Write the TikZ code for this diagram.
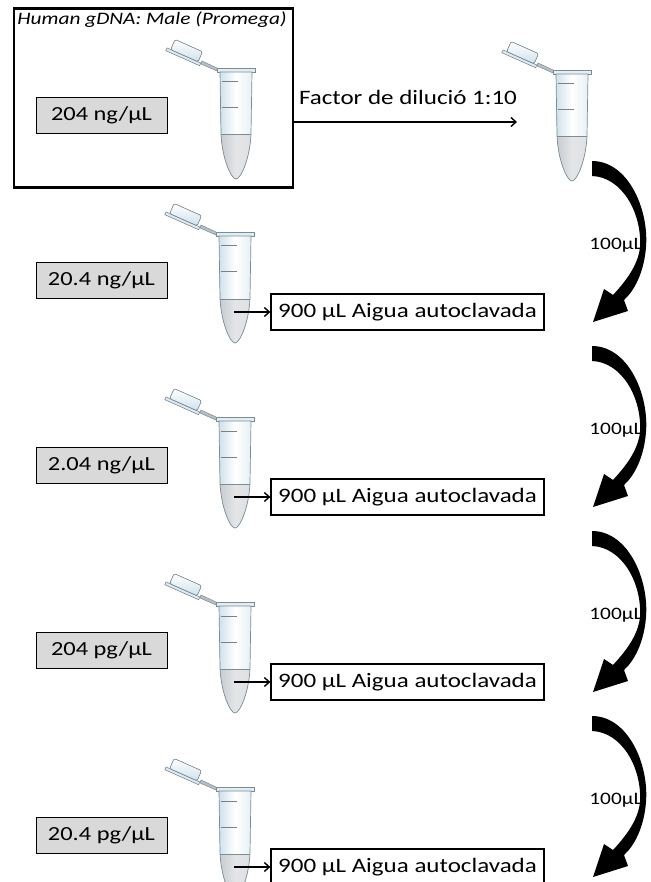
\documentclass[tikz,border=0pt]{standalone}
\usepackage{fontspec}
\setmainfont{Carlito}[FakeStretch=1.22]
\usetikzlibrary{arrows.meta}
\definecolor{tubeline}{HTML}{7E8B94}
\definecolor{tubeblue}{HTML}{CFE1EC}
\definecolor{liquid}{HTML}{B9BEC3}
\definecolor{boxgray}{HTML}{D9D9D9}
% outline of the tube body, top centre at (0,0), y downwards
\def\tubeoutline{(-16,4) -- (-15,66) .. controls (-14,90) and (-5,111) .. (0,111) .. controls (5,111) and (14,90) .. (15,66) -- (16,4) -- cycle}
\tikzset{
  conc/.style={draw=black, line width=0.8pt, fill=boxgray, minimum width=131pt, minimum height=36pt, inner sep=0pt, font=\fontsize{20}{22}\selectfont},
  water/.style={draw=black, line width=1.3pt, fill=white, minimum width=273pt, minimum height=36pt, inner sep=0pt, font=\fontsize{20.5}{22}\selectfont},
  vol/.style={font=\fontsize{17.5}{19}\selectfont},
  thinarrow/.style={-{Straight Barb[length=5pt,width=9pt]}, line width=1.4pt},
  tube/.pic={
    % hinge strip
    \filldraw[draw=tubeline, fill=tubeline!55, line width=0.5pt] (-34,-7) -- (-19,0) -- (-19,3) -- (-35,-4) -- cycle;
    % lid
    \begin{scope}[shift={(-50,-16)}, rotate=-24]
      \filldraw[draw=tubeline, fill=tubeblue!70, line width=0.6pt] (-19,4) rectangle (18,7);
      \filldraw[draw=tubeline, top color=white, bottom color=tubeblue, line width=0.6pt, rounded corners=1.5pt] (-15,-7) rectangle (15,4);
    \end{scope}
    % rim
    \filldraw[draw=tubeline, fill=tubeblue!60, line width=0.6pt] (-19,0) rectangle (19,4);
    % body with liquid
    \shade[left color=tubeblue, right color=tubeblue!50, middle color=white] \tubeoutline;
    \begin{scope}
      \clip \tubeoutline;
      \shade[left color=liquid!90, right color=liquid!50, middle color=liquid!40!white] (-20,67) rectangle (20,115);
      \draw[tubeline, line width=1pt] (-20,67) -- (20,67);
    \end{scope}
    \draw[tubeline, line width=0.7pt] \tubeoutline;
    % graduation marks
    \draw[gray, line width=1pt] (-14,14) -- (2,14) (-14,40) -- (2,40);
  },
  bendarrow/.pic={
    \fill[black] (0,0) .. controls (36,0) and (57,48) .. (54,86)
      .. controls (52,112) and (42,130) .. (32,139)
      -- (36,150) -- (1,161) -- (12,128) -- (21,134)
      .. controls (31,123) and (46,106) .. (48,86)
      .. controls (50,52) and (30,16) .. (0,15) -- cycle;
  }
}
\begin{document}
\begin{tikzpicture}[x=1pt, y=-1pt]
\useasboundingbox (0,0) rectangle (650,882);
\clip (0,0) rectangle (650,882);
\fill[white] (0,0) rectangle (650,882);

% stock solution frame
\node[draw=black, line width=2.5pt, minimum width=279pt, minimum height=179pt, inner sep=0pt] (stock) at (153.5,98) {};
\node[font=\fontsize{17.5}{19}\selectfont\itshape] (title) at (152,20) {Human gDNA: Male (Promega)};
\node[conc] (c0) at (101.5,115) {204 ng/µL};
\pic at (236,68) {tube};

% first dilution step
\coordinate (d0) at (517,122);
\draw[thinarrow] (stock.east |- d0) -- (d0);
\node[font=\fontsize{20.5}{22}\selectfont] (factor) at (408,97) {Factor de dilució 1:10};
\pic at (572,70) {tube};

% serial dilutions
\foreach \i/\conc in {1/{20.4 ng/µL}, 2/{2.04 ng/µL}, 3/{204 pg/µL}, 4/{20.4 pg/µL}}{
  \pgfmathsetmacro{\dy}{185*(\i-1)}
  \pic at (235,232+\dy) {tube};
  \node[conc] (c\i) at (101.5,280+\dy) {\conc};
  \node[water] (w\i) at (407.5,312+\dy) {900 µL Aigua autoclavada};
  \coordinate (in\i) at (234,312+\dy);
  \draw[thinarrow] (in\i) -- (w\i.west);
  \pic at (592,161+\dy) {bendarrow};
  \node[vol] (v\i) at (616,245+\dy) {100µL};
}
\end{tikzpicture}
\end{document}
